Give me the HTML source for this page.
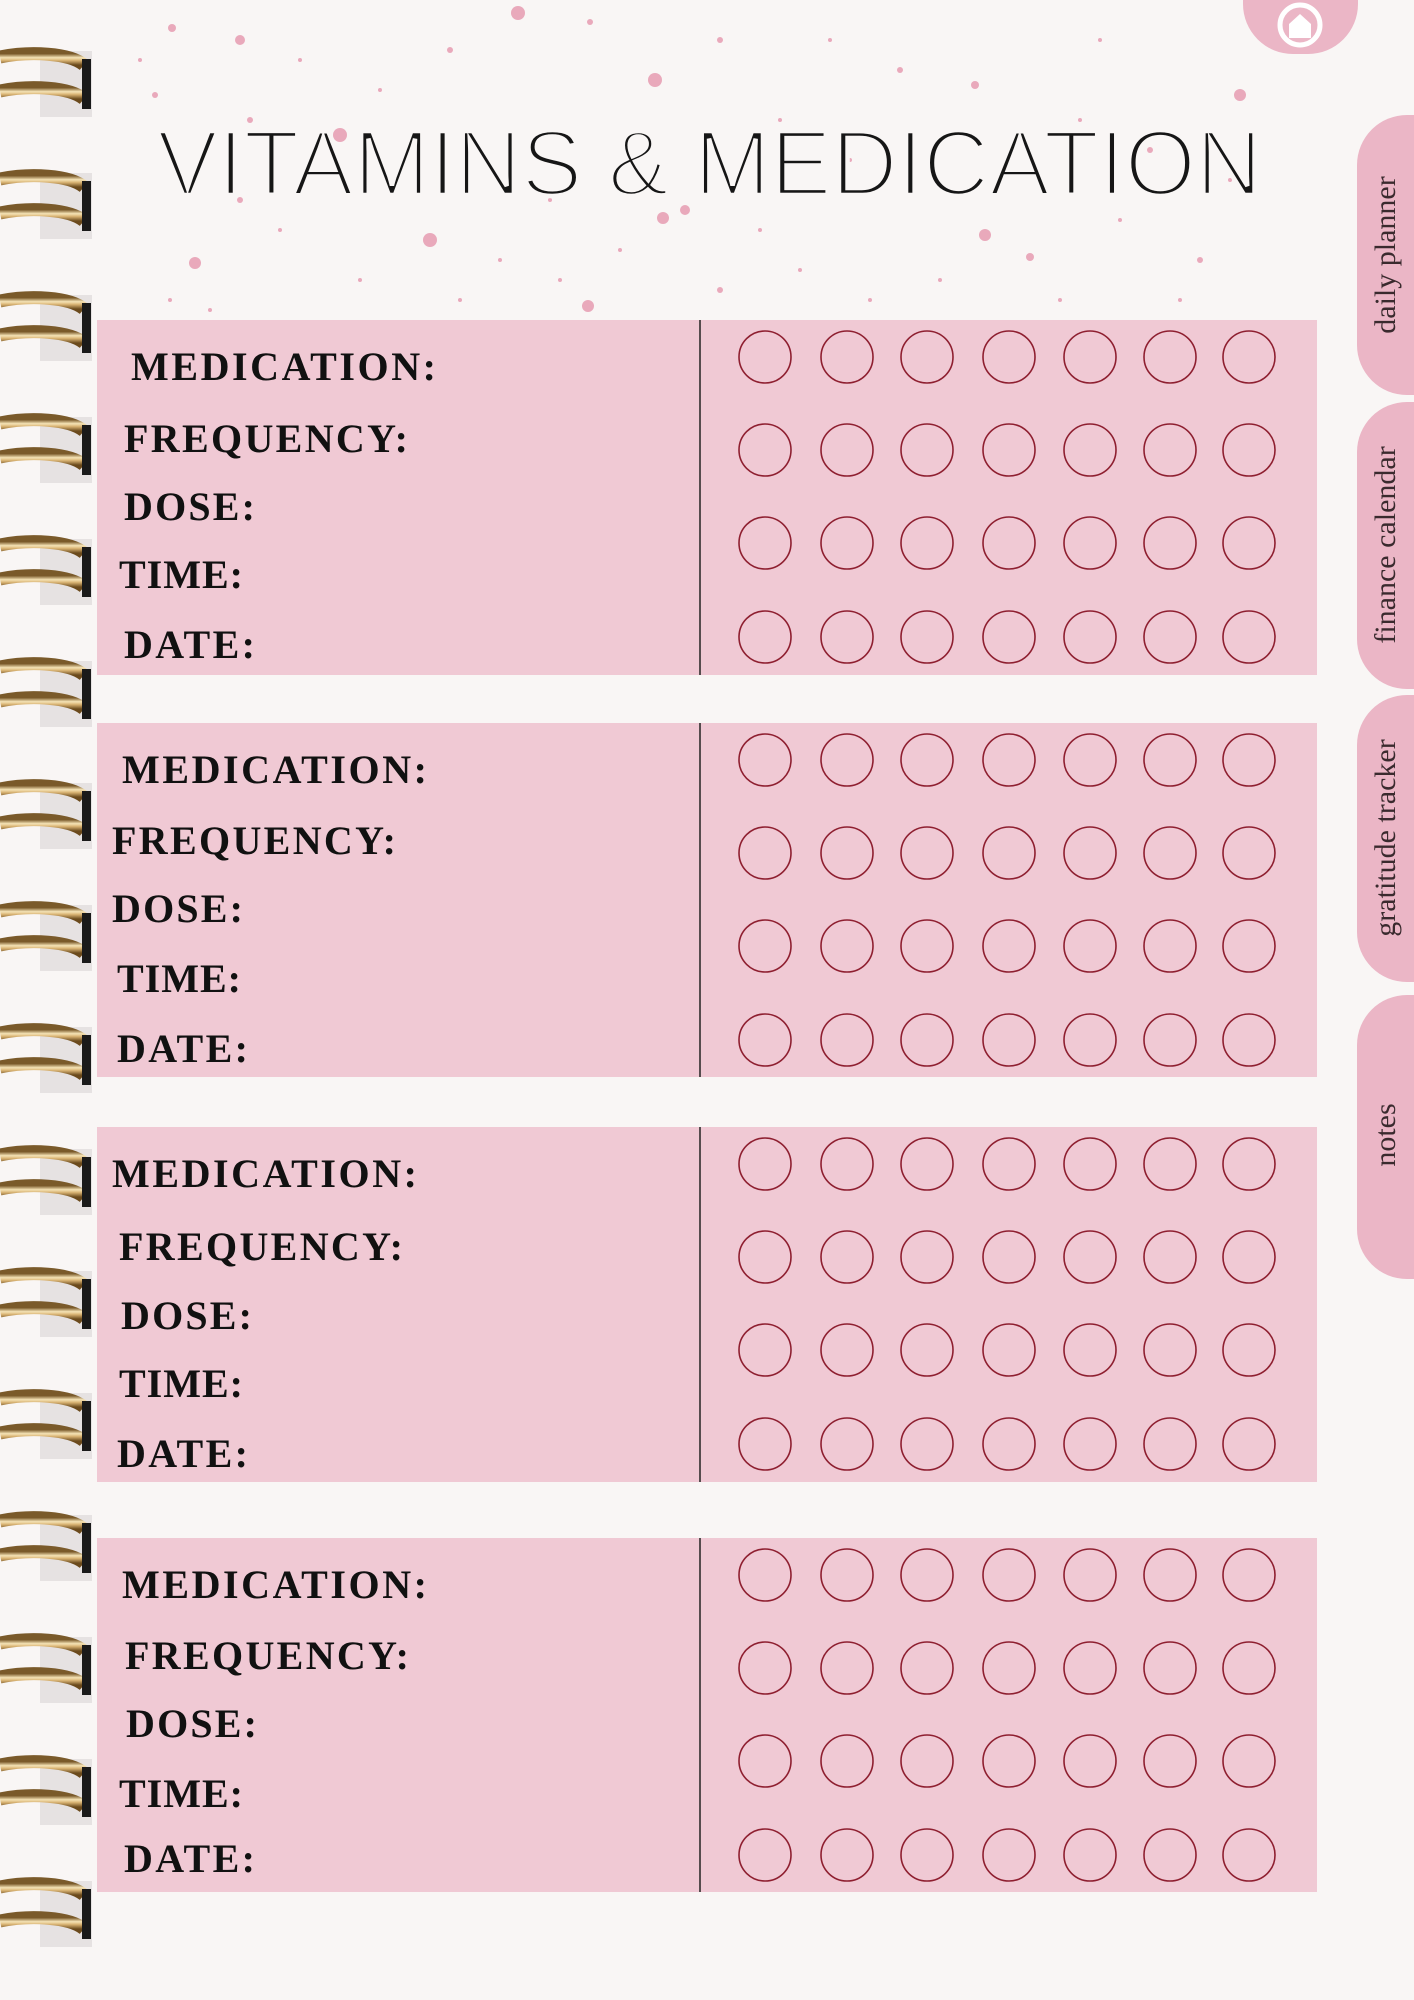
<!DOCTYPE html>
<html><head><meta charset="utf-8"><style>
html,body{margin:0;padding:0;background:#f9f6f5;}
svg{display:block}
</style></head><body>
<svg width="1414" height="2000" viewBox="0 0 1414 2000" xmlns="http://www.w3.org/2000/svg">
<defs>
<linearGradient id="g" x1="0" y1="0" x2="0" y2="1">
<stop offset="0" stop-color="#7a5a2a"/><stop offset="0.35" stop-color="#f6e4b6"/><stop offset="0.6" stop-color="#d8b272"/><stop offset="1" stop-color="#6b4a1c"/>
</linearGradient>
<g id="ring">
<rect x="40" y="-32" width="52" height="66" fill="#d9d6d6" opacity="0.6"/>
<path d="M0,-26 C30,-32 70,-30 84,-18" stroke="url(#g)" stroke-width="13" fill="none"/>
<path d="M0,8 C30,2 70,4 84,16" stroke="url(#g)" stroke-width="13" fill="none"/>
<rect x="82" y="-24" width="9" height="50" fill="#1a1a1a"/>
</g>
<g id="row" fill="none" stroke="#8e1f30" stroke-width="1.6">
<circle cx="765" cy="0" r="26"/><circle cx="847" cy="0" r="26"/><circle cx="927" cy="0" r="26"/><circle cx="1009" cy="0" r="26"/><circle cx="1090" cy="0" r="26"/><circle cx="1170" cy="0" r="26"/><circle cx="1249" cy="0" r="26"/>
</g>
</defs>
<rect width="1414" height="2000" fill="#f9f6f5"/>
<g fill="#e9a9bb">
<circle cx="518" cy="13" r="7"/><circle cx="172" cy="28" r="4"/><circle cx="240" cy="40" r="5"/><circle cx="590" cy="22" r="3"/><circle cx="655" cy="80" r="7"/><circle cx="340" cy="135" r="7"/><circle cx="430" cy="240" r="7"/><circle cx="195" cy="263" r="6"/><circle cx="663" cy="218" r="6"/><circle cx="685" cy="210" r="5"/><circle cx="985" cy="235" r="6"/><circle cx="1240" cy="95" r="6"/><circle cx="975" cy="85" r="4"/><circle cx="588" cy="306" r="6"/><circle cx="1030" cy="257" r="4"/><circle cx="155" cy="95" r="3"/><circle cx="250" cy="120" r="3"/><circle cx="300" cy="60" r="2"/><circle cx="380" cy="90" r="2"/><circle cx="450" cy="50" r="3"/><circle cx="720" cy="40" r="3"/><circle cx="780" cy="120" r="2"/><circle cx="850" cy="160" r="2"/><circle cx="900" cy="70" r="3"/><circle cx="1100" cy="40" r="2"/><circle cx="1150" cy="150" r="3"/><circle cx="1200" cy="260" r="3"/><circle cx="1120" cy="220" r="2"/><circle cx="240" cy="200" r="3"/><circle cx="280" cy="230" r="2"/><circle cx="360" cy="280" r="2"/><circle cx="500" cy="260" r="2"/><circle cx="560" cy="280" r="2"/><circle cx="620" cy="250" r="2"/><circle cx="720" cy="290" r="3"/><circle cx="800" cy="270" r="2"/><circle cx="870" cy="300" r="2"/><circle cx="940" cy="280" r="2"/><circle cx="1060" cy="300" r="2"/><circle cx="1180" cy="300" r="2"/><circle cx="1230" cy="180" r="2"/><circle cx="170" cy="300" r="2"/><circle cx="210" cy="310" r="2"/><circle cx="460" cy="300" r="2"/><circle cx="760" cy="230" r="2"/><circle cx="550" cy="200" r="2"/><circle cx="1000" cy="190" r="2"/><circle cx="1080" cy="120" r="2"/><circle cx="140" cy="60" r="2"/><circle cx="830" cy="40" r="2"/>
</g>
<text x="157" y="195" font-family="Liberation Sans, sans-serif" font-size="93" fill="#161616" stroke="#f9f6f5" stroke-width="4.5" textLength="1105" lengthAdjust="spacingAndGlyphs">VITAMINS &amp; MEDICATION</text>
<g>
<use href="#ring" y="83"/><use href="#ring" y="205"/><use href="#ring" y="327"/><use href="#ring" y="449"/><use href="#ring" y="571"/><use href="#ring" y="693"/><use href="#ring" y="815"/><use href="#ring" y="937"/><use href="#ring" y="1059"/><use href="#ring" y="1181"/><use href="#ring" y="1303"/><use href="#ring" y="1425"/><use href="#ring" y="1547"/><use href="#ring" y="1669"/><use href="#ring" y="1791"/><use href="#ring" y="1913"/>
</g>
<g fill="#f0c9d4">
<rect x="97" y="320" width="1220" height="355"/><rect x="97" y="723" width="1220" height="354"/><rect x="97" y="1127" width="1220" height="355"/><rect x="97" y="1538" width="1220" height="354"/>
</g>
<g stroke="#222" stroke-width="1.5">
<line x1="700" y1="320" x2="700" y2="675"/><line x1="700" y1="723" x2="700" y2="1077"/><line x1="700" y1="1127" x2="700" y2="1482"/><line x1="700" y1="1538" x2="700" y2="1892"/>
</g>
<use href="#row" y="357"/><use href="#row" y="450"/><use href="#row" y="543"/><use href="#row" y="637"/>
<use href="#row" y="760"/><use href="#row" y="853"/><use href="#row" y="946"/><use href="#row" y="1040"/>
<use href="#row" y="1164"/><use href="#row" y="1257"/><use href="#row" y="1350"/><use href="#row" y="1444"/>
<use href="#row" y="1575"/><use href="#row" y="1668"/><use href="#row" y="1761"/><use href="#row" y="1855"/>
<g font-family="Liberation Serif, serif" font-weight="bold" font-size="40" fill="#111" lengthAdjust="spacingAndGlyphs">
<text x="131" y="380" textLength="305">MEDICATION:</text>
<text x="124" y="452" textLength="284">FREQUENCY:</text>
<text x="124" y="520" textLength="131">DOSE:</text>
<text x="119" y="588" textLength="124">TIME:</text>
<text x="124" y="658" textLength="131">DATE:</text>
<text x="122" y="783" textLength="305">MEDICATION:</text>
<text x="112" y="854" textLength="284">FREQUENCY:</text>
<text x="112" y="922" textLength="131">DOSE:</text>
<text x="117" y="992" textLength="124">TIME:</text>
<text x="117" y="1062" textLength="131">DATE:</text>
<text x="112" y="1187" textLength="305">MEDICATION:</text>
<text x="119" y="1260" textLength="284">FREQUENCY:</text>
<text x="121" y="1329" textLength="131">DOSE:</text>
<text x="119" y="1397" textLength="124">TIME:</text>
<text x="117" y="1467" textLength="131">DATE:</text>
<text x="122" y="1598" textLength="305">MEDICATION:</text>
<text x="125" y="1669" textLength="284">FREQUENCY:</text>
<text x="126" y="1737" textLength="131">DOSE:</text>
<text x="119" y="1807" textLength="124">TIME:</text>
<text x="124" y="1872" textLength="131">DATE:</text>
</g>
<rect x="1243" y="-60" width="115" height="114" rx="50" fill="#ebb6c6"/>
<circle cx="1300" cy="25" r="20" fill="none" stroke="#fff" stroke-width="5"/>
<path d="M1289,38 V24 L1300,14 L1311,24 V38 Z" fill="#fff"/>
<g fill="#ebb6c6">
<rect x="1357" y="115" width="110" height="280" rx="50"/>
<rect x="1357" y="402" width="110" height="287" rx="50"/>
<rect x="1357" y="695" width="110" height="287" rx="50"/>
<rect x="1357" y="995" width="110" height="284" rx="50"/>
</g>
<g font-family="Liberation Serif, serif" font-size="30" fill="#3a2a2e" text-anchor="middle">
<text transform="translate(1395,255) rotate(-90)">daily planner</text>
<text transform="translate(1395,545) rotate(-90)">finance calendar</text>
<text transform="translate(1395,838) rotate(-90)">gratitude tracker</text>
<text transform="translate(1395,1135) rotate(-90)">notes</text>
</g>
</svg>
</body></html>
